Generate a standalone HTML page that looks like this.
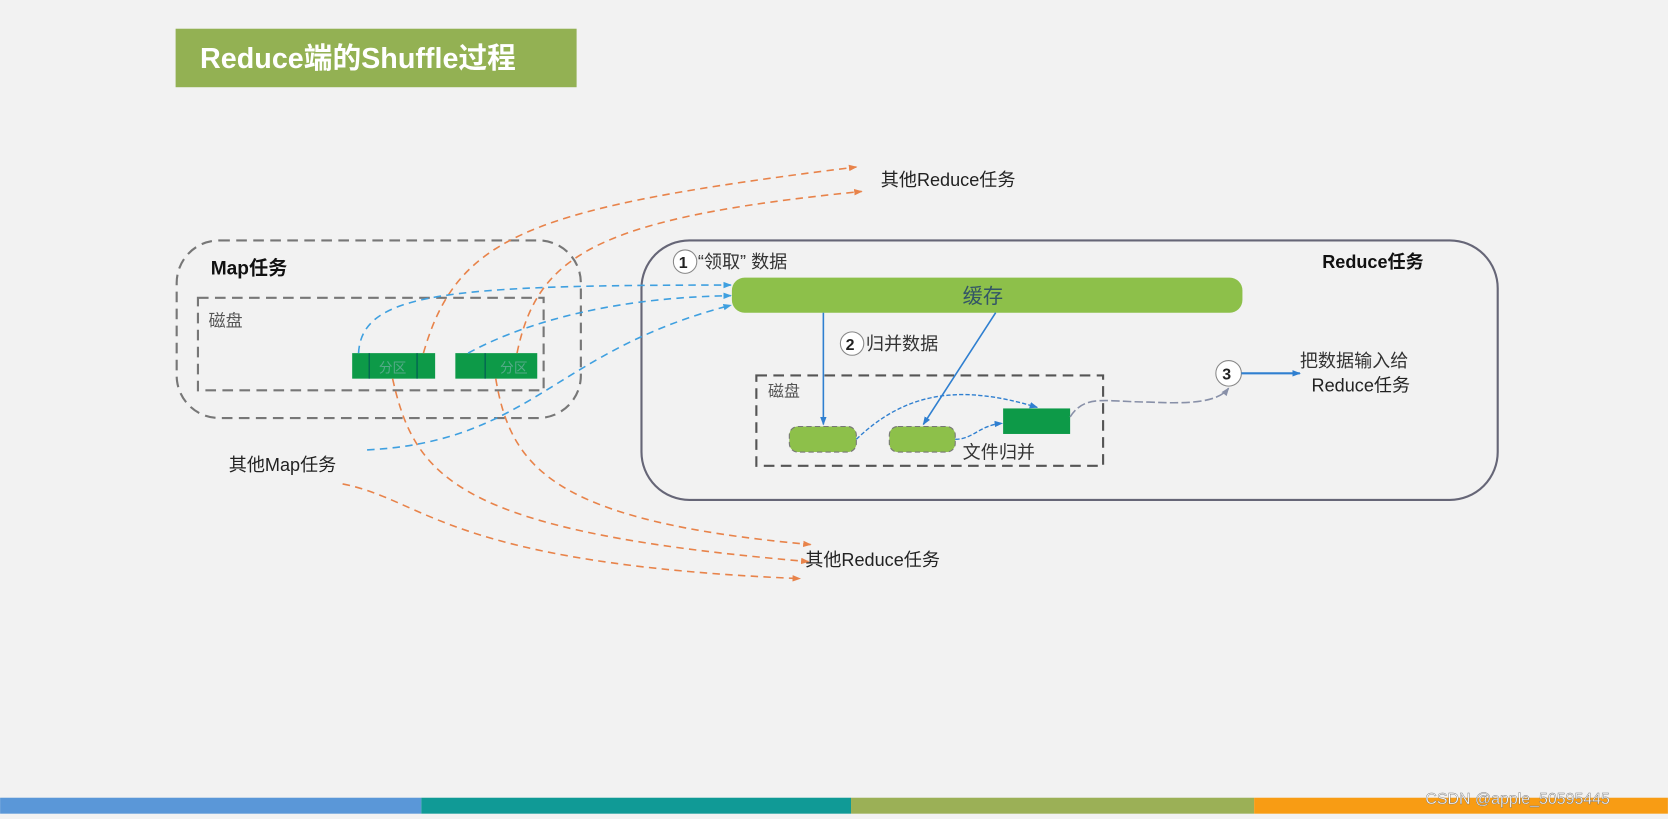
<!DOCTYPE html>
<html><head><meta charset="utf-8"><style>
html,body{margin:0;padding:0;background:#f2f2f2;}
svg{display:block;}
text{font-family:"Liberation Sans","Noto Sans CJK SC",sans-serif;}
</style></head><body>
<svg width="1668" height="819" viewBox="0 0 1568 770" xmlns="http://www.w3.org/2000/svg">
<defs>
<marker id="ao" markerWidth="8" markerHeight="8" refX="7" refY="4" orient="auto" markerUnits="userSpaceOnUse"><path d="M0,1 L8,4 L0,7z" fill="#e8834a"/></marker>
<marker id="ab" markerWidth="8" markerHeight="8" refX="7" refY="4" orient="auto" markerUnits="userSpaceOnUse"><path d="M0,1 L8,4 L0,7z" fill="#2f7fd0"/></marker>
<marker id="al" markerWidth="8" markerHeight="8" refX="7" refY="4" orient="auto" markerUnits="userSpaceOnUse"><path d="M0,1 L8,4 L0,7z" fill="#3fa0e0"/></marker>
<marker id="ag" markerWidth="8" markerHeight="8" refX="7" refY="4" orient="auto" markerUnits="userSpaceOnUse"><path d="M0,1 L8,4 L0,7z" fill="#8890a8"/></marker>
</defs>
<rect width="1568" height="770" fill="#f2f2f2"/>
<!-- title -->
<rect x="165" y="27" width="377" height="55" fill="#93b153"/>
<text x="188" y="64" font-size="27" font-weight="bold" fill="#fff">Reduce端的Shuffle过程</text>

<!-- map box -->
<rect x="166" y="226" width="380" height="167" rx="40" fill="none" stroke="#777" stroke-width="2" stroke-dasharray="10,6"/>
<text x="198" y="258" font-size="18" font-weight="bold" fill="#111">Map任务</text>
<rect x="186" y="280" width="325" height="87" fill="none" stroke="#777" stroke-width="2" stroke-dasharray="10,6"/>
<text x="196" y="307" font-size="16" fill="#555">磁盘</text>
<rect x="331" y="332" width="78" height="24" fill="#0d9a48"/>
<line x1="347" y1="332" x2="347" y2="356" stroke="#055"/><line x1="392" y1="332" x2="392" y2="356" stroke="#055"/>
<text x="356" y="350" font-size="13" fill="#5a8">分区</text>
<rect x="428" y="332" width="77" height="24" fill="#0d9a48"/>
<line x1="456" y1="332" x2="456" y2="356" stroke="#055"/>
<text x="470" y="350" font-size="13" fill="#5a8">分区</text>
<text x="215" y="443" font-size="17" fill="#222">其他Map任务</text>

<!-- reduce box -->
<rect x="603" y="226" width="805" height="244" rx="45" fill="none" stroke="#667" stroke-width="2"/>
<circle cx="644" cy="246" r="11" fill="#fff" stroke="#888"/>
<text x="638" y="252" font-size="15" font-weight="bold" fill="#222">1</text>
<text x="656" y="252" font-size="17" fill="#333">“领取” 数据</text>
<text x="1243" y="252" font-size="17" font-weight="bold" fill="#111">Reduce任务</text>
<rect x="688" y="261" width="480" height="33" rx="12" fill="#8dc04a"/>
<text x="905" y="285" font-size="19" fill="#356">缓存</text>
<circle cx="801" cy="323" r="11" fill="#fff" stroke="#888"/>
<text x="795" y="329" font-size="15" font-weight="bold" fill="#222">2</text>
<text x="814" y="329" font-size="17" fill="#333">归并数据</text>
<rect x="711" y="353" width="326" height="85" fill="none" stroke="#555" stroke-width="2" stroke-dasharray="10,6"/>
<text x="722" y="373" font-size="15" fill="#555">磁盘</text>
<rect x="742" y="401" width="63" height="24" rx="8" fill="#8dc04a" stroke="#777" stroke-dasharray="5,3"/>
<rect x="836" y="401" width="62" height="24" rx="8" fill="#8dc04a" stroke="#777" stroke-dasharray="5,3"/>
<rect x="943" y="384" width="63" height="24" fill="#0d9a48"/>
<text x="905" y="431" font-size="17" fill="#333">文件归并</text>
<line x1="774" y1="294" x2="774" y2="399" stroke="#2f7fd0" stroke-width="1.5" marker-end="url(#ab)"/>
<line x1="936" y1="294" x2="868" y2="399" stroke="#2f7fd0" stroke-width="1.5" marker-end="url(#ab)"/>
<path d="M805,413 C850,370 900,360 975,383" fill="none" stroke="#2f7fd0" stroke-width="1.3" stroke-dasharray="4,2" marker-end="url(#ab)"/>
<path d="M898,413 C915,413 920,400 942,398" fill="none" stroke="#2f7fd0" stroke-width="1.3" stroke-dasharray="4,2" marker-end="url(#ab)"/>
<path d="M1006,392 C1020,370 1040,378 1080,378 C1120,380 1145,378 1155,365" fill="none" stroke="#8890a8" stroke-width="1.5" stroke-dasharray="8,3" marker-end="url(#ag)"/>
<circle cx="1155" cy="351" r="12" fill="#fff" stroke="#888"/>
<text x="1149" y="357" font-size="15" font-weight="bold" fill="#222">3</text>
<line x1="1167" y1="351" x2="1222" y2="351" stroke="#2f7fd0" stroke-width="2" marker-end="url(#ab)"/>
<text x="1222" y="345" font-size="17" fill="#333">把数据输入给</text>
<text x="1233" y="368" font-size="17" fill="#222">Reduce任务</text>

<!-- other reduce -->
<text x="828" y="175" font-size="17" fill="#222">其他Reduce任务</text>
<text x="757" y="532" font-size="17" fill="#222">其他Reduce任务</text>

<!-- orange dashed -->
<g fill="none" stroke="#e8834a" stroke-width="1.5" stroke-dasharray="7,5">
<path d="M398,332 C430,220 500,195 805,157" marker-end="url(#ao)"/>
<path d="M486,332 C505,240 560,205 810,180" marker-end="url(#ao)"/>
<path d="M369,356 C390,450 430,500 760,528" marker-end="url(#ao)"/>
<path d="M466,356 C480,440 520,490 762,512" marker-end="url(#ao)"/>
<path d="M322,455 C400,470 420,530 752,544" marker-end="url(#ao)"/>
</g>
<!-- blue dashed -->
<g fill="none" stroke="#3fa0e0" stroke-width="1.5" stroke-dasharray="7,5">
<path d="M337,332 C340,275 420,268 687,268" marker-end="url(#al)"/>
<path d="M440,332 C480,310 560,280 687,278" marker-end="url(#al)"/>
<path d="M345,423 C500,415 520,330 687,287" marker-end="url(#al)"/>
</g>

<!-- bottom bars -->
<rect x="0" y="750" width="396" height="15" fill="#5a97d8"/>
<rect x="396" y="750" width="404" height="15" fill="#109a96"/>
<rect x="800" y="750" width="379" height="15" fill="#9bb056"/>
<rect x="1179" y="750" width="389" height="15" fill="#f89c14"/>
<text x="1340" y="756" font-size="15" fill="#fff" stroke="#777" stroke-width="0.4">CSDN @apple_50595445</text>
</svg>
</body></html>
